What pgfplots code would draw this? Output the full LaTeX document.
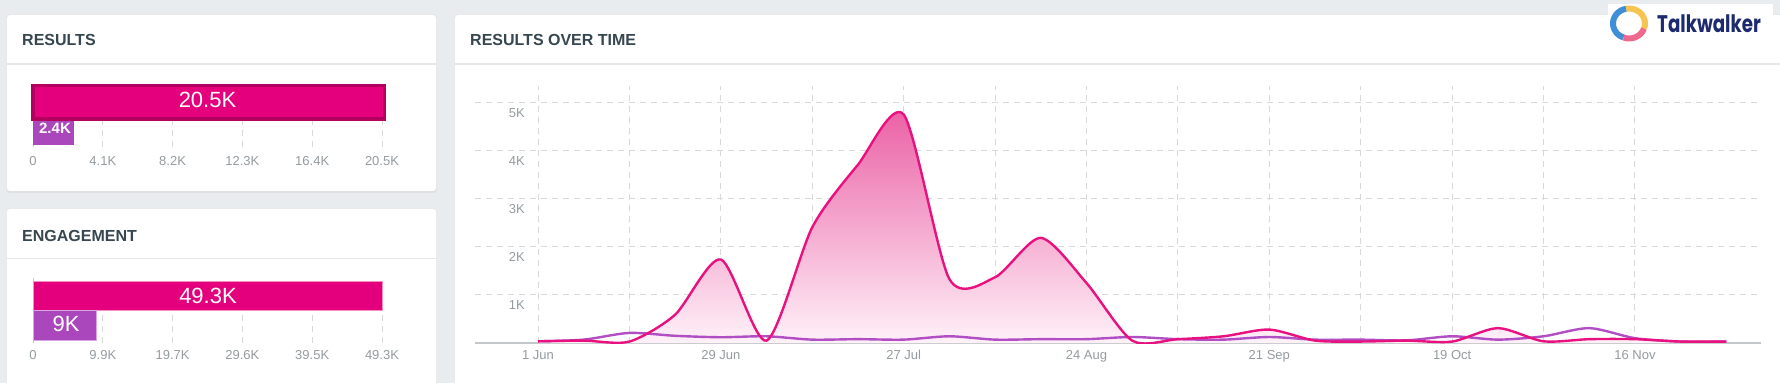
\documentclass[border=0pt]{standalone}
\usepackage{pgfplots}
\usepackage{pgfplotstable}
\usepackage{graphicx}
\pgfplotsset{compat=1.18}
\usepackage{fontspec}
\setmainfont{Liberation Sans}
\newfontfamily\logofont{Poppins}
\definecolor{bggray}{HTML}{E9ECEF}
\definecolor{hdr}{HTML}{37474F}
\definecolor{sepc}{HTML}{E4E8EB}
\definecolor{tickgray}{HTML}{959CA0}
\definecolor{gridgray}{HTML}{D9D9D9}
\definecolor{axisgray}{HTML}{C4C7C9}
\definecolor{pinkbar}{HTML}{E4007C}
\definecolor{pinkdark}{HTML}{B3005E}
\definecolor{pinklight}{HTML}{F48FC0}
\definecolor{purplebar}{HTML}{AB47BC}
\definecolor{purplelight}{HTML}{D9A6E3}
\definecolor{pinkline}{HTML}{E8117F}
\definecolor{purpleline}{HTML}{B24EC4}
\definecolor{filltop}{HTML}{EA5BA2}
\definecolor{fillbot}{HTML}{FFF4FA}
\definecolor{navy}{HTML}{1E2A6E}
\definecolor{logoblue}{HTML}{3F8ED8}
\definecolor{logoyellow}{HTML}{F6C453}
\definecolor{logopink}{HTML}{EE6A8C}

\pgfplotstableread{
day pink purple
0 35 35
7 50 70
14 30 210
21 590 150
28 1740 120
35 50 140
42 2410 70
49 3715 80
56 4760 70
63 1333 140
70 1370 70
77 2190 80
84 1250 80
91 50 125
98 80 80
105 140 70
112 280 125
119 50 70
126 30 70
133 50 55
140 30 140
147 310 70
154 35 140
161 80 310
168 80 100
175 30 30
182 30 30
}\timedata

\begin{document}
\begin{tikzpicture}[x=1pt,y=1pt]
\path[use as bounding box] (0,0) rectangle (1780,383);
\fill[bggray] (0,0) rectangle (1780,383);
% cards
\fill[black!12, rounded corners=3] (6.5,190) rectangle (436.5,368.5);
\fill[white, rounded corners=3] (7,192) rectangle (436,368);
\fill[black!10, rounded corners=3] (6.5,-6) rectangle (436.5,174.5);
\fill[white, rounded corners=3] (7,-5) rectangle (436,174);
\fill[black!10, rounded corners=3] (454.5,-6) rectangle (1790,368.5);
\fill[white, rounded corners=3] (455,-5) rectangle (1790,368);
\draw[sepc, line width=1.2] (7,319) -- (436,319);
\draw[sepc, line width=1.2] (7,124.7) -- (436,124.7);
\draw[sepc, line width=1.2] (455,319) -- (1780,319);
% headers
\node[anchor=base west, inner sep=0, text=hdr, font=\bfseries\fontsize{16}{18}\selectfont] at (22,337) {RESULTS};
\node[anchor=base west, inner sep=0, text=hdr, font=\bfseries\fontsize{16}{18}\selectfont] at (22,141.3) {ENGAGEMENT};
\node[anchor=base west, inner sep=0, text=hdr, font=\bfseries\fontsize{16}{18}\selectfont] at (470,337) {RESULTS OVER TIME};
% logo
\fill[white] (1608,340) rectangle (1773,379);
\draw[logoblue, line width=6] ([shift={(100:16 and 15)}]1629,359.5) arc [start angle=100, end angle=250, x radius=16, y radius=15];
\draw[logoyellow, line width=6] ([shift={(-20:16 and 15)}]1629,359.5) arc [start angle=-20, end angle=100, x radius=16, y radius=15];
\draw[logopink, line width=6] ([shift={(250:16 and 15)}]1629,359.5) arc [start angle=250, end angle=340, x radius=16, y radius=15];
\node[anchor=base west, inner sep=0, text=navy] at (1657,350) {\scalebox{0.76}[1]{\logofont\bfseries\fontsize{24}{26}\selectfont Talkwalker}};

% ---------- RESULTS bar chart
\begin{axis}[
  at={(33pt,236pt)}, anchor=south west, scale only axis,
  width=349pt, height=63pt,
  xmin=0, xmax=20500, ymin=0, ymax=63,
  scaled x ticks=false,
  axis x line*=bottom, axis y line*=left,
  x axis line style={draw=none}, y axis line style={draw=axisgray, line width=1pt},
  xtick={0,4100,8200,12300,16400,20500},
  xticklabels={0,4.1K,8.2K,12.3K,16.4K,20.5K},
  ytick=\empty,
  major tick length=0pt,
  xmajorgrids, grid style={gridgray, dash pattern=on 6pt off 5pt, line width=1pt},
  xticklabel style={anchor=north, inner sep=0pt, yshift=-9pt, font=\fontsize{13}{15}\selectfont, text=tickgray},
  clip=false,
]
\addplot[xbar, bar width=33.5pt, bar shift=0pt, fill=pinkbar, draw=pinkdark, line width=3.5pt] coordinates {(20650,44.5)};
\addplot[xbar, bar width=24pt, bar shift=0pt, fill=purplebar, draw=none] coordinates {(2400,14)};
\node[text=white, inner sep=0pt, font=\fontsize{22}{24}\selectfont] at (axis cs:10250,47) {20.5K};
\node[text=white, inner sep=0pt, font=\bfseries\fontsize{15}{17}\selectfont] at (axis cs:1292,18.5) {2.4K};
\end{axis}

% ---------- ENGAGEMENT bar chart
\begin{axis}[
  at={(33pt,40pt)}, anchor=south west, scale only axis,
  width=349pt, height=65pt,
  xmin=0, xmax=49300, ymin=0, ymax=65,
  scaled x ticks=false,
  axis x line*=bottom, axis y line*=left,
  x axis line style={draw=none}, y axis line style={draw=axisgray, line width=1pt},
  xtick={0,9860,19720,29580,39440,49300},
  xticklabels={0,9.9K,19.7K,29.6K,39.5K,49.3K},
  ytick=\empty,
  major tick length=0pt,
  xmajorgrids, grid style={gridgray, dash pattern=on 6pt off 5pt, line width=1pt},
  xticklabel style={anchor=north, inner sep=0pt, yshift=-7pt, font=\fontsize{13}{15}\selectfont, text=tickgray},
  clip=false,
]
\addplot[xbar, bar width=29pt, bar shift=0pt, fill=pinkbar, draw=pinklight, line width=0.8pt] coordinates {(49300,47.5)};
\addplot[xbar, bar width=30pt, bar shift=0pt, fill=purplebar, draw=purplelight, line width=0.8pt] coordinates {(9000,18)};
\node[text=white, inner sep=0pt, font=\fontsize{22}{24}\selectfont] at (axis cs:24720,47.2) {49.3K};
\node[text=white, inner sep=0pt, font=\fontsize{22}{24}\selectfont] at (axis cs:4662,19) {9K};
\end{axis}

% ---------- RESULTS OVER TIME
\begin{axis}[
  at={(475pt,40pt)}, anchor=south west, scale only axis,
  width=1286pt, height=257pt,
  xmin=-9.648, xmax=187.3, ymin=0, ymax=5354,
  axis x line*=bottom, axis y line*=left,
  x axis line style={draw=axisgray, line width=1.6pt}, y axis line style={draw=none},
  xtick={0,14,...,168},
  xticklabels={1 Jun,,29 Jun,,27 Jul,,24 Aug,,21 Sep,,19 Oct,,16 Nov},
  ytick={1000,2000,3000,4000,5000},
  yticklabels={1K,2K,3K,4K,5K},
  major tick length=0pt,
  grid=major, grid style={gridgray, dash pattern=on 6pt off 5pt, line width=1pt},
  xticklabel style={anchor=north, inner sep=0pt, yshift=-7pt, font=\fontsize{13}{15}\selectfont, text=tickgray},
  yticklabel style={anchor=north east, inner sep=0pt, xshift=50pt, yshift=-5pt, font=\fontsize{13}{15}\selectfont, text=tickgray},
]
\addplot[draw=none, mark=none, top color=filltop, bottom color=fillbot, smooth, tension=0.45] table[x=day,y=pink]{\timedata} \closedcycle;
\addplot[purpleline, line width=2.4pt, mark=none, smooth, tension=0.45] table[x=day,y=purple]{\timedata};
\addplot[pinkline, line width=2.4pt, mark=none, smooth, tension=0.45] table[x=day,y=pink]{\timedata};
\end{axis}
\end{tikzpicture}
\end{document}
